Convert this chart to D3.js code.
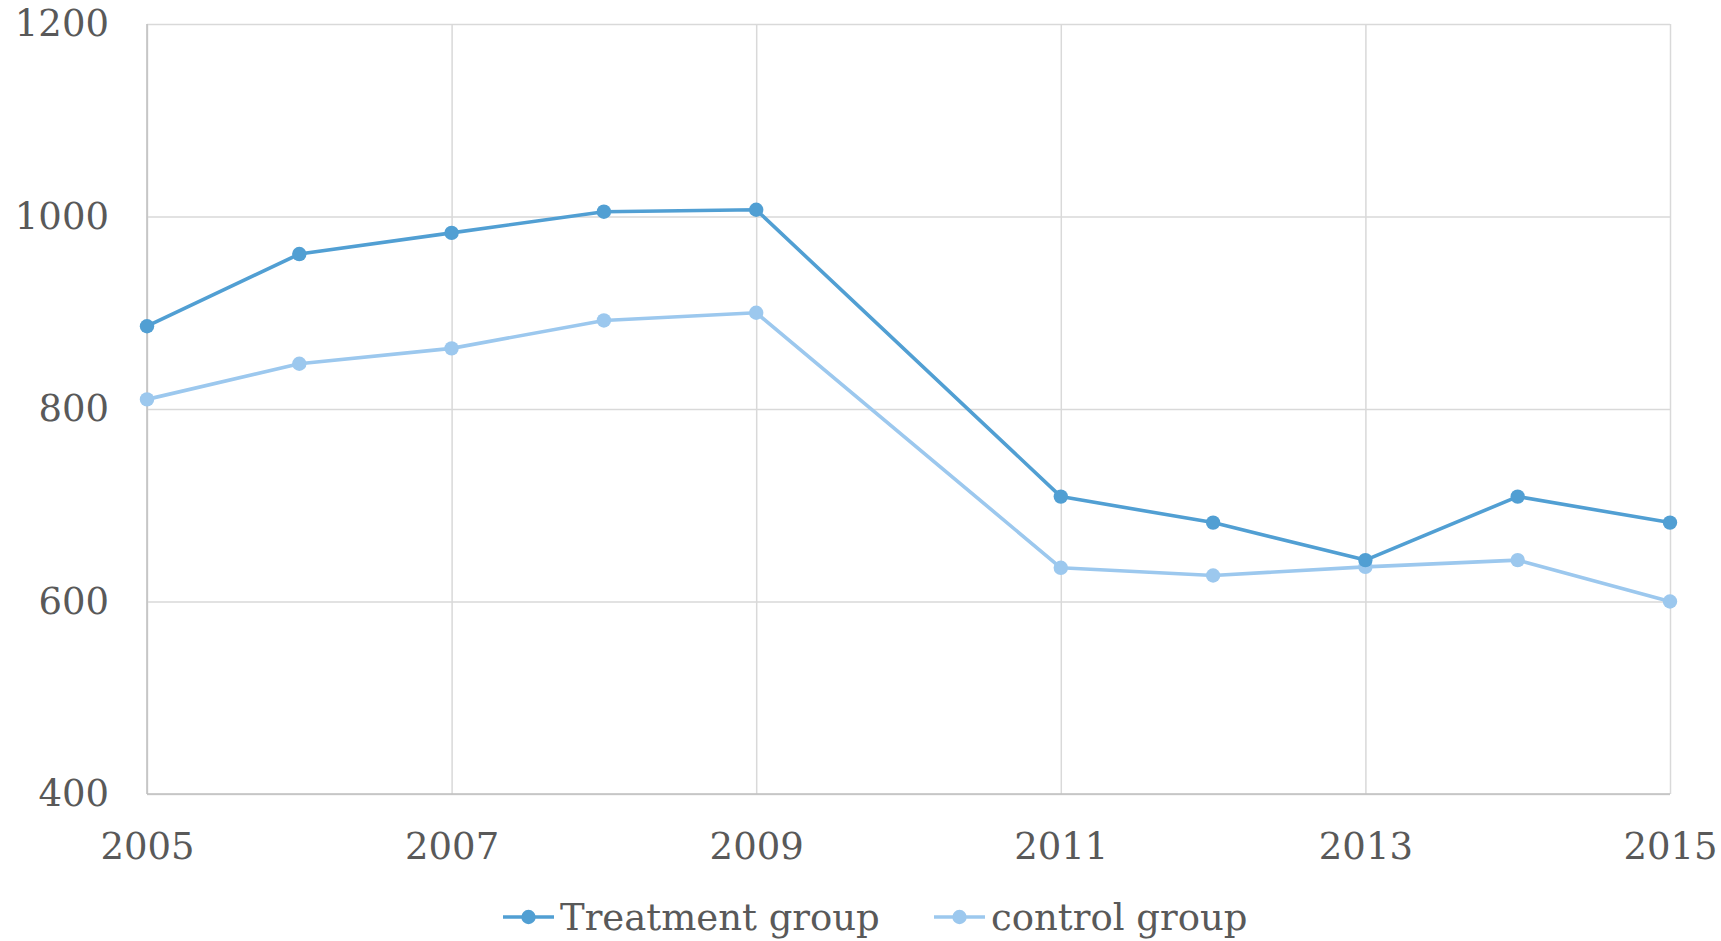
<!DOCTYPE html>
<html>
<head>
<meta charset="utf-8">
<script src="https://cdn.jsdelivr.net/npm/d3@7"></script>
<style>
  html, body { margin: 0; padding: 0; background: #fff; }
  svg { display: block; }
  text { font-family: Georgia, "DejaVu Serif", serif; fill: #595959; }
</style>
</head>
<body>
<svg id="chart" width="1721" height="941"></svg>
<script>
// Years observed (no 2010 observation)
const years = [2005, 2006, 2007, 2008, 2009, 2011, 2012, 2013, 2014, 2015];
const treatment = [886, 961, 983, 1005, 1007, 709, 682, 643, 709, 682];
const control = [810, 847, 863, 892, 900, 635, 627, 636, 643, 600];
const seriesNames = ["Treatment group", "control group"];
const seriesColors = ["#519fd3", "#9cc8ee"];
const xTicks = [2005, 2007, 2009, 2011, 2013, 2015];
const yTicks = [400, 600, 800, 1000, 1200];

const svg = d3.select("#chart");
const margin = { left: 147, right: 51, top: 24, bottom: 147 };
const W = 1721, H = 941;
const fontSize = 37;
const x = d3.scaleLinear().domain([2005, 2015]).range([margin.left, W - margin.right]);
const y = d3.scaleLinear().domain([400, 1200]).range([H - margin.bottom, margin.top]);

// Gridlines
svg.append("g").attr("class", "grid-y")
  .attr("transform", `translate(${margin.left},0)`)
  .call(d3.axisLeft(y).tickValues(yTicks).tickSize(-(x.range()[1] - x.range()[0])).tickFormat(""))
  .call(g => g.select(".domain").remove())
  .call(g => g.selectAll("line").attr("stroke", "#d9d9d9").attr("stroke-width", 1.5));

svg.append("g").attr("class", "grid-x")
  .attr("transform", `translate(0,${y.range()[0]})`)
  .call(d3.axisBottom(x).tickValues(xTicks).tickSize(-(y.range()[0] - y.range()[1])).tickFormat(""))
  .call(g => g.select(".domain").remove())
  .call(g => g.selectAll("line").attr("stroke", "#d9d9d9").attr("stroke-width", 1.5));

// Axis lines
svg.append("line")
  .attr("x1", x.range()[0]).attr("x2", x.range()[0])
  .attr("y1", y.range()[0]).attr("y2", y.range()[1])
  .attr("stroke", "#bfbfbf").attr("stroke-width", 1.5);
svg.append("line")
  .attr("x1", x.range()[0]).attr("x2", x.range()[1])
  .attr("y1", y.range()[0]).attr("y2", y.range()[0])
  .attr("stroke", "#bfbfbf").attr("stroke-width", 1.5);

// Tick labels
const yAxis = svg.append("g")
  .attr("transform", `translate(${margin.left - 38},0)`)
  .call(d3.axisLeft(y).tickValues(yTicks).tickSize(0).tickPadding(0).tickFormat(d3.format("d")));
yAxis.select(".domain").remove();
yAxis.selectAll("text")
  .attr("font-size", fontSize).attr("fill", "#595959")
  .style("font-family", "Georgia, 'DejaVu Serif', serif");

const xAxis = svg.append("g")
  .attr("transform", `translate(0,${y.range()[0] + 39})`)
  .call(d3.axisBottom(x).tickValues(xTicks).tickSize(0).tickPadding(0).tickFormat(d3.format("d")));
xAxis.select(".domain").remove();
xAxis.selectAll("text")
  .attr("font-size", fontSize).attr("fill", "#595959")
  .style("font-family", "Georgia, 'DejaVu Serif', serif");

// Series lines and markers
const series = [treatment, control];
const line = d3.line().x(d => x(d[0])).y(d => y(d[1]));
// Draw control first so treatment sits on top
[1, 0].forEach(i => {
  const pts = years.map((yr, k) => [yr, series[i][k]]);
  svg.append("path")
    .datum(pts)
    .attr("fill", "none")
    .attr("stroke", seriesColors[i])
    .attr("stroke-width", 3.6)
    .attr("stroke-linejoin", "round")
    .attr("d", line);
  svg.append("g").selectAll("circle")
    .data(pts).join("circle")
    .attr("cx", d => x(d[0])).attr("cy", d => y(d[1]))
    .attr("r", 7.2)
    .attr("fill", seriesColors[i]);
});

// Legend
const legendY = 917;
const legendItems = [
  { name: seriesNames[0], color: seriesColors[0], x0: 503 },
  { name: seriesNames[1], color: seriesColors[1], x0: 934 }
];
legendItems.forEach(it => {
  const g = svg.append("g");
  g.append("line")
    .attr("x1", it.x0).attr("x2", it.x0 + 51)
    .attr("y1", legendY).attr("y2", legendY)
    .attr("stroke", it.color).attr("stroke-width", 3.6);
  g.append("circle")
    .attr("cx", it.x0 + 25.5).attr("cy", legendY).attr("r", 7.2)
    .attr("fill", it.color);
  g.append("text")
    .attr("x", it.x0 + 57).attr("y", legendY)
    .attr("dy", "0.36em")
    .attr("font-size", fontSize)
    .text(it.name);
});
</script>
</body>
</html>
